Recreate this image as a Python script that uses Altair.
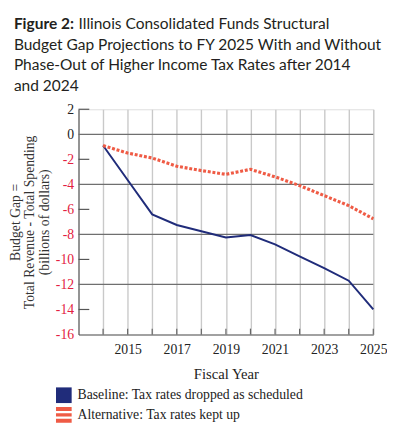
import altair as alt
import pandas as pd

# ---- data ----
years = list(range(2014, 2026))
baseline = [-0.9, -3.65, -6.4, -7.25, -7.75, -8.25, -8.05, -8.8, -9.75, -10.7, -11.7, -14.0]
alternative = [-0.9, -1.5, -1.9, -2.55, -2.9, -3.2, -2.8, -3.4, -4.1, -4.9, -5.7, -6.75]
series_names = ["Baseline: Tax rates dropped as scheduled", "Alternative: Tax rates kept up"]
y_ticks = [2, 0, -2, -4, -6, -8, -10, -12, -14, -16]
y_grid = [0, -4, -8, -12]
y_short_ticks = [2, -2, -6, -10, -14]
x_grid = list(range(2014, 2026))

title_bold = "Figure 2:"
title_line1 = "Illinois Consolidated Funds Structural"
title_rest = ["Budget Gap Projections to FY 2025 With and Without",
              "Phase-Out of Higher Income Tax Rates after 2014",
              "and 2024"]

NAVY = "#202c7a"
ORANGE = "#ef5b45"
RED_LABEL = "#e3213f"
SERIF = "Liberation Serif"
SANS = "Lato"
TFS = 15.8

df = pd.DataFrame({
    "year": years * 2,
    "value": baseline + alternative,
    "series": [series_names[0]] * len(years) + [series_names[1]] * len(years),
})

W, H = 301, 230
PL = 72

xs = alt.Scale(domain=[2013, 2025], nice=False, zero=False)
ys = alt.Scale(domain=[-16, 2], nice=False, zero=False)

x_axis = alt.Axis(values=x_grid, grid=True, gridColor="#c9c9c9", gridWidth=1.4,
                  ticks=False, domainColor="#555555", domainWidth=1.2,
                  labelExpr="datum.value % 2 == 1 ? '' + datum.value : ''",
                  labelOverlap=False, labelFlush=False, labelBound=False,
                  labelFont=SERIF, labelFontSize=14, labelColor="#222222", labelPadding=8,
                  title="Fiscal Year", titleFont=SERIF, titleFontSize=15,
                  titleFontWeight="normal", titleColor="#222222", titlePadding=11)
y_axis = alt.Axis(values=y_ticks, grid=False, ticks=False, domainColor="#555555",
                  domainWidth=1.2, labelFont=SERIF, labelFontSize=14,
                  labelExpr="'' + datum.value", labelOverlap=False, labelFlush=False,
                  labelColor={"condition": {"test": "datum.value < 0", "value": RED_LABEL},
                              "value": "#222222"},
                  labelPadding=5,
                  title=["Budget Gap =", "Total Revenue - Total Spending", "(billions of dollars)"],
                  titleFont=SERIF, titleFontSize=14, titleFontWeight="normal",
                  titleColor="#333333", titleLineHeight=15, titlePadding=4)


def X(field):
    return alt.X(field, type="quantitative", scale=xs, axis=x_axis)


def Y(field):
    return alt.Y(field, type="quantitative", scale=ys, axis=y_axis)


base = alt.Chart(df)

hgrid = alt.Chart(pd.DataFrame({"g": y_grid})).mark_rule(color="#6f6f6f", strokeWidth=1.2).encode(
    y=Y("g")
)
yticks = alt.Chart(pd.DataFrame({"t": y_short_ticks})).mark_rule(color="#555555", strokeWidth=1.2).encode(
    y=Y("t"), x=alt.value(0), x2=alt.value(11)
)
xticks = alt.Chart(pd.DataFrame({"t": x_grid})).mark_rule(color="#666666", strokeWidth=1.2).encode(
    x=X("t"), y=alt.value(H), y2=alt.value(H - 6)
)

line_base = base.transform_filter(alt.datum.series == series_names[0]).mark_line(
    color=NAVY, strokeWidth=2).encode(x=X("year"), y=Y("value"))
line_alt = base.transform_filter(alt.datum.series == series_names[1]).mark_line(
    color=ORANGE, strokeWidth=3.2, strokeDash=[3, 1.8]).encode(x=X("year"), y=Y("value"))

stripes = "M-1,-1H1V-0.5H-1Z M-1,-0.2H1V0.2H-1Z M-1,0.5H1V1H-1Z"
leg = alt.Legend(title=None, orient="none", legendX=57 - 8 - PL, legendY=284, symbolSize=256,
                 labelFont=SERIF, labelFontSize=14, labelColor="#222222", rowPadding=4,
                 labelOffset=6, symbolStrokeWidth=0, symbolOpacity=1, labelLimit=400)
legend_layer = base.transform_filter("false").mark_point(filled=True, opacity=1).encode(
    x=X("year"), y=Y("value"),
    color=alt.Color("series:N", scale=alt.Scale(domain=series_names, range=[NAVY, ORANGE]), legend=leg),
    shape=alt.Shape("series:N", scale=alt.Scale(domain=series_names, range=["square", stripes]), legend=leg),
)

TX = 14 - 8 - PL
t_bold = alt.Chart(pd.DataFrame({"t": [title_bold]})).mark_text(
    font=SANS, fontSize=TFS, fontWeight="bold", align="left", baseline="alphabetic", color="#231f20"
).encode(text="t:N", x=alt.value(TX), y=alt.value(-82))
t_line1 = alt.Chart(pd.DataFrame({"t": [title_line1]})).mark_text(
    font=SANS, fontSize=TFS, fontWeight="normal", align="left", baseline="alphabetic", color="#231f20"
).encode(text="t:N", x=alt.value(80 - 8 - PL), y=alt.value(-82))
t_rest = alt.Chart(pd.DataFrame({"t": ["\n".join(title_rest)]})).mark_text(
    font=SANS, fontSize=TFS, fontWeight="normal", align="left", baseline="alphabetic",
    color="#231f20", lineBreak="\n", lineHeight=21
).encode(text="t:N", x=alt.value(TX), y=alt.value(-61))

chart = alt.layer(hgrid, yticks, xticks, line_base, line_alt, legend_layer,
                  t_bold, t_line1, t_rest).properties(
    width=W, height=H,
    autosize=alt.AutoSizeParams(type="none"),
    padding={"left": PL, "top": 99, "right": 14, "bottom": 88},
).configure_view(stroke=None).configure(background="white")

chart.save("out.html", embed_options={"renderer": "svg", "actions": False})
